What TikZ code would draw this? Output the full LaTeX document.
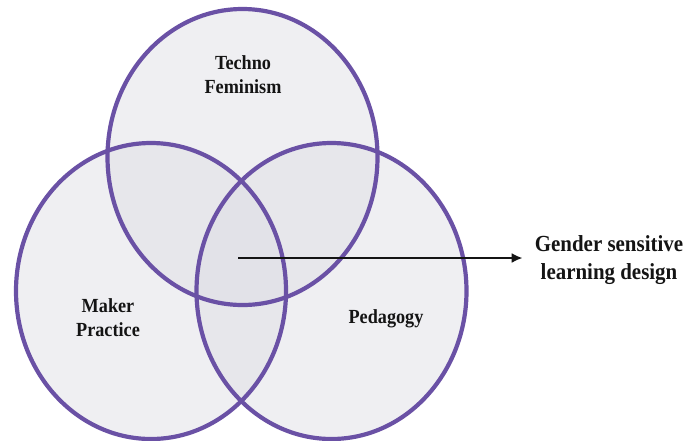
\documentclass[tikz,border=0pt]{standalone}
\usepackage{fontspec}
\setmainfont[FakeStretch=0.91]{Liberation Serif}
\usepackage{tikz}
\usetikzlibrary{positioning,arrows.meta}
\definecolor{vennLila}{HTML}{6A51A5}
\definecolor{vennGris}{HTML}{DCDCE3}
\colorlet{colTexto}{black!92}

\begin{document}
\begin{tikzpicture}[x=1pt, y=-1pt,
        zona/.style={fill=vennGris, fill opacity=.45},
        borde/.style={draw=vennLila, line width=4.2pt},
        lbl/.style={font=\bfseries\fontsize{20}{24}\selectfont, align=center, text=colTexto, inner sep=1pt},
        big/.style={lbl, font=\bfseries\fontsize{23}{28}\selectfont},
        arr/.style={-{Latex[length=11pt, width=10pt]}, line width=2.9pt, draw=black!92}
    ]
        \useasboundingbox (0,0) rectangle (695,440);

        % centros de los tres conjuntos
        \coordinate (cTecno) at (242.5,157);
        \coordinate (cMaker) at (151,291);
        \coordinate (cPeda)  at (331.5,291);

        % rellenos primero, luego los bordes encima
        \foreach \c in {cTecno, cMaker, cPeda}
            \fill[zona] (\c) ellipse [x radius=135pt, y radius=148pt];
        \foreach \c in {cTecno, cMaker, cPeda}
            \draw[borde] (\c) ellipse [x radius=135pt, y radius=148pt];

        % Etiquetas
        \node[lbl] (tecno) at (243,75)  {Techno\\Feminism};
        \node[lbl] (maker) at (108,318) {Maker\\Practice};
        \node[lbl] (peda)  at (386,319) {Pedagogy};

        % Resultado
        \coordinate (nucleo) at (238,258);
        \node[big, inner sep=0pt] (gender) at (609,260) {Gender sensitive\\learning design};
        \draw[arr] (nucleo) -- ([xshift=-12pt]gender.west |- nucleo);
    \end{tikzpicture}
\end{document}
